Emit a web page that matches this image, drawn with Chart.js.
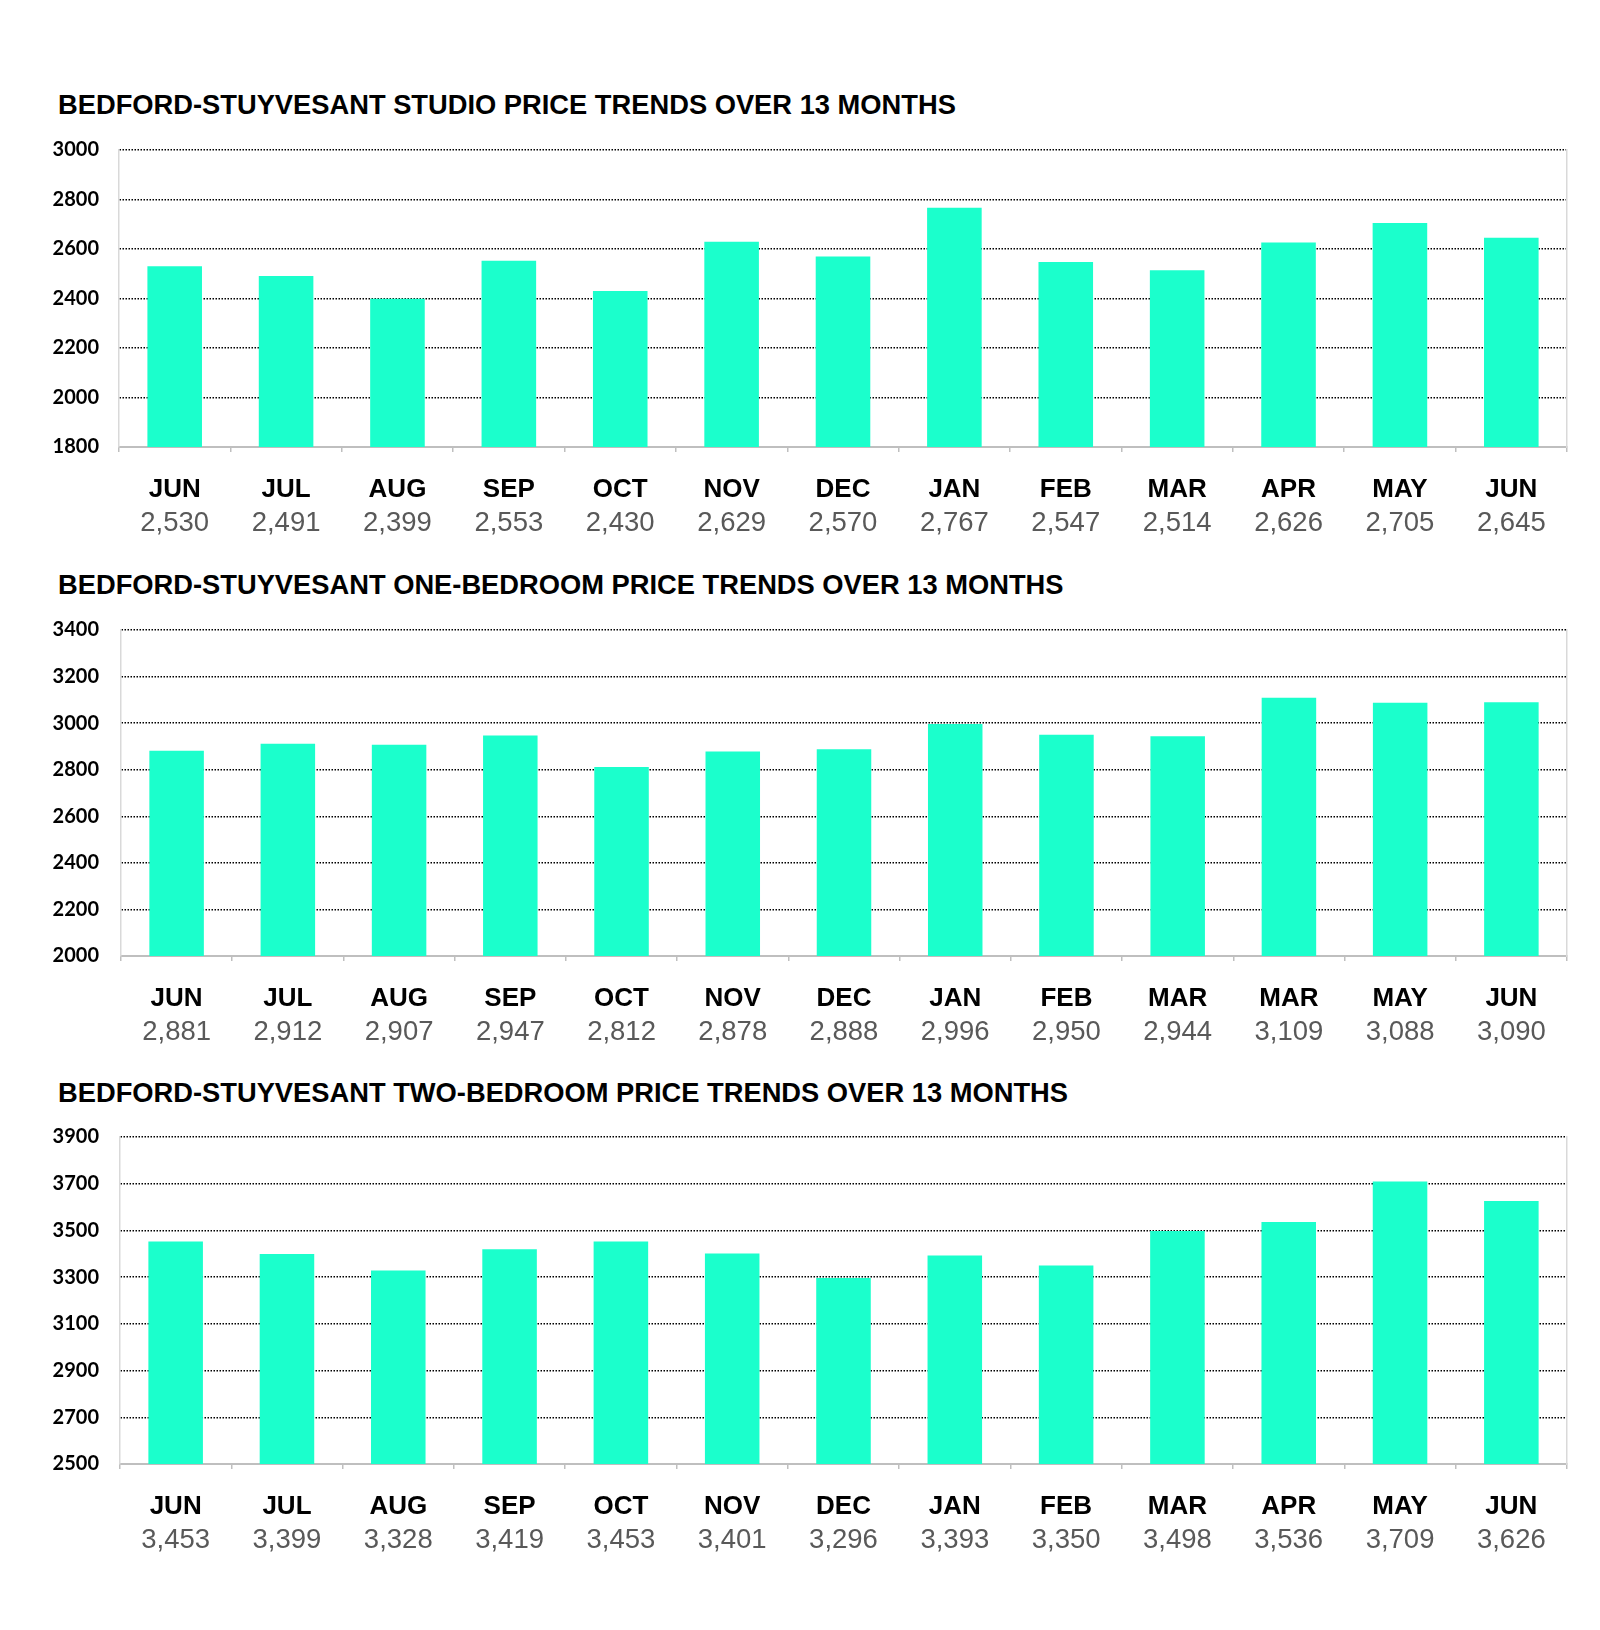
<!DOCTYPE html>
<html>
<head>
<meta charset="utf-8">
<script src="https://cdn.jsdelivr.net/npm/chart.js@4"></script>
<style>
  body { margin: 0; background: #fff; width: 1600px; height: 1630px; position: relative; }
  .title { position: absolute; left: 58px; font: bold 27.3px "Liberation Sans", Arial, sans-serif; line-height: 32px; color: #000; white-space: nowrap; }
  canvas { position: absolute; left: 0; }
</style>
</head>
<body>
<div class="title" style="top:89px">BEDFORD-STUYVESANT STUDIO PRICE TRENDS OVER 13 MONTHS</div>
<canvas id="studio" width="1600" height="417" style="top:135px"></canvas>
<div class="title" style="top:569px">BEDFORD-STUYVESANT ONE-BEDROOM PRICE TRENDS OVER 13 MONTHS</div>
<canvas id="oneBed" width="1600" height="446" style="top:615px"></canvas>
<div class="title" style="top:1077px">BEDFORD-STUYVESANT TWO-BEDROOM PRICE TRENDS OVER 13 MONTHS</div>
<canvas id="twoBed" width="1600" height="447" style="top:1122px"></canvas>

<script>
const studioMonths = ['JUN', 'JUL', 'AUG', 'SEP', 'OCT', 'NOV', 'DEC', 'JAN', 'FEB', 'MAR', 'APR', 'MAY', 'JUN'];
const studioPrices = [2530, 2491, 2399, 2553, 2430, 2629, 2570, 2767, 2547, 2514, 2626, 2705, 2645];

const oneBedMonths = ['JUN', 'JUL', 'AUG', 'SEP', 'OCT', 'NOV', 'DEC', 'JAN', 'FEB', 'MAR', 'MAR', 'MAY', 'JUN'];
const oneBedPrices = [2881, 2912, 2907, 2947, 2812, 2878, 2888, 2996, 2950, 2944, 3109, 3088, 3090];

const twoBedMonths = ['JUN', 'JUL', 'AUG', 'SEP', 'OCT', 'NOV', 'DEC', 'JAN', 'FEB', 'MAR', 'APR', 'MAY', 'JUN'];
const twoBedPrices = [3453, 3399, 3328, 3419, 3453, 3401, 3296, 3393, 3350, 3498, 3536, 3709, 3626];

// y axis ranges: [min, max, step]
const studioRange = [1800, 3000, 200];
const oneBedRange = [2000, 3400, 200];
const twoBedRange = [2500, 3900, 200];

const BAR_COLOR = '#1bffcc';
const AXIS_GRAY = '#bfbfbf';

function drawChart(id, months, prices, range, axisWidth) {
    const ctx = document.getElementById(id);
    new Chart(ctx, {
        type: 'bar',
        data: {
            labels: months,
            datasets: [{
                data: prices,
                backgroundColor: BAR_COLOR,
                barPercentage: 0.49,
                categoryPercentage: 1
            }]
        },
        options: {
            responsive: false,
            animation: false,
            layout: { padding: { top: 15, right: 33, left: 0, bottom: 10 } },
            plugins: { legend: { display: false }, tooltip: { enabled: false } },
            scales: {
                x: {
                    weight: 0,
                    offset: true,
                    grid: { offset: true, drawOnChartArea: false, drawTicks: true, tickLength: 5, color: AXIS_GRAY, lineWidth: 1.5 },
                    border: { color: AXIS_GRAY, width: 2 },
                    ticks: {
                        padding: 22,
                        color: '#000',
                        maxRotation: 0,
                        autoSkip: false,
                        font: { family: '"Liberation Sans", Arial, sans-serif', size: 26, weight: 'bold' },
                        callback: (v, i) => months[i]
                    },
                    afterFit: s => { s.height = 50; }
                },
                x2: {
                    type: 'category',
                    position: 'bottom',
                    weight: 1,
                    offset: true,
                    grid: { display: false },
                    border: { display: false },
                    ticks: {
                        padding: 2,
                        color: '#595959',
                        maxRotation: 0,
                        autoSkip: false,
                        font: { family: '"Liberation Sans", Arial, sans-serif', size: 27.5 },
                        callback: (v, i) => prices[i].toLocaleString('en-US')
                    },
                    afterFit: s => { s.height = 45; }
                },
                y: {
                    min: range[0],
                    max: range[1],
                    ticks: {
                        stepSize: range[2],
                        padding: axisWidth - 99,
                        color: '#000',
                        font: { family: 'Lato, sans-serif', size: 20, weight: 'bold' },
                        callback: v => String(v)
                    },
                    grid: {
                        drawTicks: false,
                        lineWidth: 1.5,
                        color: c => c.index === 0 ? 'rgba(0,0,0,0)' : '#000'
                    },
                    border: { color: '#d9d9d9', width: 1.5, dash: [1.5, 1.5] },
                    afterFit: s => { s.width = axisWidth; s.paddingTop = 0; s.paddingBottom = 0; }
                },
                y2: {
                    position: 'right',
                    ticks: { display: false },
                    grid: { display: false },
                    border: { color: '#d9d9d9', width: 1.5 },
                    afterFit: s => { s.width = 0; s.paddingTop = 0; s.paddingBottom = 0; }
                }
            }
        }
    });
}

drawChart('studio', studioMonths, studioPrices, studioRange, 119);
drawChart('oneBed', oneBedMonths, oneBedPrices, oneBedRange, 121);
drawChart('twoBed', twoBedMonths, twoBedPrices, twoBedRange, 120);
</script>
</body>
</html>
